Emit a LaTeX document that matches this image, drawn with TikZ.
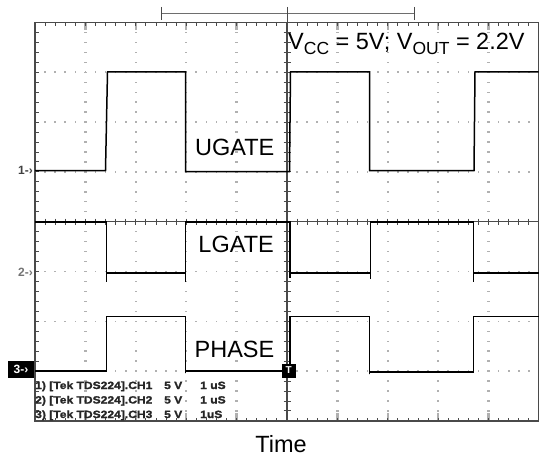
\documentclass[tikz,border=0pt]{standalone}
\usepackage{fontspec}
\setmainfont{Liberation Sans}
\newfontfamily\tekfont[FakeStretch=1.15,FakeBold=1.5]{Liberation Sans}
\definecolor{frame}{HTML}{4A4A4A}
\definecolor{gridc}{HTML}{B0B0B0}
\begin{document}
\begin{tikzpicture}[x=1pt,y=-1pt,
  frameline/.style={draw=frame,line width=1.4pt},
  tickline/.style={draw=frame,line width=0.9pt},
  majortick/.style={draw=gridc,line width=2.4pt},
  wave/.style={draw=black,line width=1.5pt,line join=miter},
  biglabel/.style={inner sep=0pt,font=\fontsize{23.5}{23.5}\selectfont},
  teklabel/.style={inner sep=0pt,anchor=base west,font=\tekfont\bfseries\fontsize{10.5}{10.5}\selectfont,text=black!85},
  marker/.style={inner sep=0pt,font=\bfseries\fontsize{12}{12}\selectfont}]
\useasboundingbox (0,0) rectangle (539,460);
% dotted grid, horizontal
\foreach \j in {1,2,3,5,6,7}{
  \foreach \i in {1,...,49}{
    \fill[gridc] ({35+\i*10.08-0.8},{22.5+\j*49.8-0.8}) rectangle ++(1.6,1.6);
  }
}
% dotted grid, vertical
\foreach \i in {1,2,3,4,6,7,8,9}{
  \foreach \k in {1,...,39}{
    \fill[gridc] ({35+\i*50.4-1.2},{22.5+\k*9.96-0.7}) rectangle ++(2.4,1.4);
  }
}
% major marks on top and bottom border
\foreach \i in {1,...,9}{
  \draw[majortick] ({35+\i*50.4},22.5) -- ++(0,8);
  \draw[majortick] ({35+\i*50.4},421) -- ++(0,-8);
}
% frame
\draw[frameline] (35,22.5) rectangle (538.5,421);
% minor ticks on border
\foreach \k in {1,...,49}{
  \draw[tickline] ({35+\k*10.08},22.5) -- ++(0,3.5);
  \draw[tickline] ({35+\k*10.08},421) -- ++(0,-3.5);
}
\foreach \k in {1,...,39}{
  \draw[tickline] (35,{22.5+\k*9.96}) -- ++(3.5,0);
}
% centre cross with ticks
\draw[frameline] (287,22.5) -- (287,421);
\draw[frameline] (35,221.7) -- (538.5,221.7);
\foreach \k in {1,...,39}{
  \draw[tickline] (283.5,{22.5+\k*9.96}) -- (290.5,{22.5+\k*9.96});
}
\foreach \k in {1,...,49}{
  \draw[tickline] ({35+\k*10.08},218.5) -- ({35+\k*10.08},225);
}
% trigger position bracket
\draw[draw=frame!80,line width=1.8pt] (161,13.5) -- (414,13.5);
\draw[tickline] (161,7) -- (161,20);
\draw[tickline] (414,7) -- (414,20);
\draw[tickline] (287,7) -- (287,22.5);
% channel 1 (UGATE)
\draw[wave] (35,170.5) -- (105.5,170.5) -- (107.5,72) -- (185.5,72) -- (185.5,171.5)
  -- (289.5,171.5) -- (290.5,72) -- (369.5,72) -- (369.5,170.5) -- (474,170.5)
  -- (475,72) -- (538.5,72);
% channel 2 (LGATE)
\draw[wave] (35,222) -- (106.5,222) -- (106.5,282);
\draw[wave] (106.5,273) -- (185.5,273);
\draw[wave] (185.5,282) -- (185.5,222) -- (290,222) -- (290,278);
\draw[wave] (290,273) -- (370.5,273);
\draw[wave] (370.5,279) -- (370.5,222) -- (473.5,222) -- (473.5,282);
\draw[wave] (473.5,273) -- (538.5,273);
% channel 3 (PHASE)
\draw[wave] (35,371) -- (106.5,371) -- (106.5,316.5) -- (185.5,316.5) -- (185.5,373)
  -- (185.5,371) -- (290,371) -- (290,316.5) -- (369.5,316.5) -- (369.5,374)
  -- (369.5,372) -- (473.5,372) -- (473.5,316.5) -- (538.5,316.5);
% channel markers
\node[marker,anchor=east,text=black!75] (m1) at (33,170.5) {1-›};
\node[marker,anchor=east,text=black!55] (m2) at (33,272.5) {2-›};
\fill[black] (8,360.5) rectangle (34,378);
\node[marker,anchor=center,text=white] (m3) at (21,369.5) {3-›};
\fill[black] (281.5,363.5) rectangle (296,377.5);
\node[marker,anchor=center,text=white,font=\bfseries\fontsize{10}{10}\selectfont] (trig) at (288.7,370.5) {T};
% labels
\node[biglabel,anchor=base west] (vcc) at (288,50)
  {V\raisebox{-4.5pt}{\fontsize{17.5}{17.5}\selectfont CC} = 5V; V\raisebox{-4.5pt}{\fontsize{17.5}{17.5}\selectfont OUT} = 2.2V};
\node[biglabel,anchor=base east] (ug) at (274.5,156) {UGATE};
\node[biglabel,anchor=base east] (lg) at (274,252) {LGATE};
\node[biglabel,anchor=base east] (ph) at (274.5,357) {PHASE};
\node[biglabel,anchor=base] (time) at (281,452) {Time};
% Tek readout
\foreach \r/\y/\u in {1/389/1 uS,2/403.5/1 uS,3/418/1uS}{
  \node[teklabel] (tka\r) at (35,\y) {\r) [Tek TDS224].CH\r};
  \node[teklabel] (tkb\r) at (164,\y) {5};
  \node[teklabel] (tkc\r) at (174,\y) {V};
  \node[teklabel] (tkd\r) at (200,\y) {\u};
}
\end{tikzpicture}
\end{document}
